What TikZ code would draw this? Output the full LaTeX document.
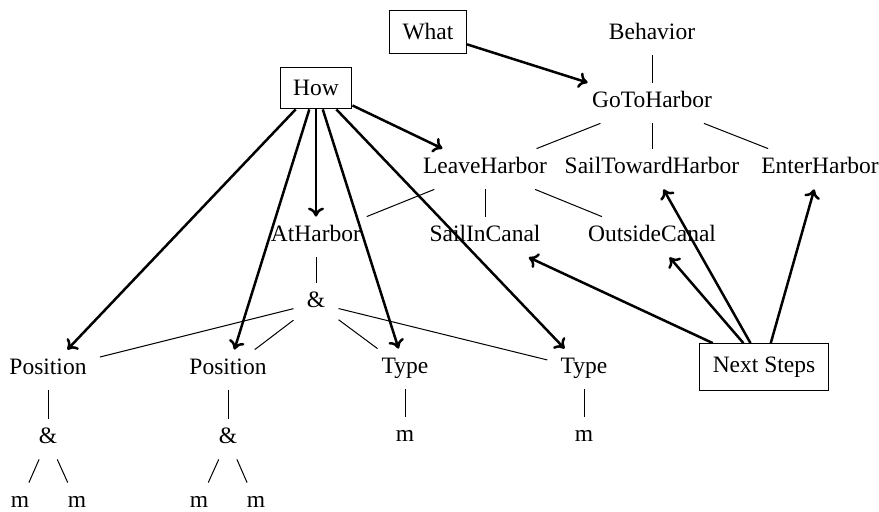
\documentclass[tikz,border=0pt]{standalone}
\usepackage{fontspec}
\setmainfont{Liberation Serif}
\usetikzlibrary{arrows.meta}
\begin{document}
\begin{tikzpicture}[x=0.5pt,y=-0.5pt,
  every node/.style={font=\fontsize{11.75pt}{14pt}\selectfont},
  tn/.style={inner xsep=6.5pt,inner ysep=5.5pt,text height=0.7em,text depth=0.2em},
  bx/.style={draw,line width=0.6pt,inner sep=6.5pt},
  tl/.style={line width=0.5pt},
  ar/.style={->,line width=1.25pt,>={To[length=4.5pt,width=8pt]}}]
\useasboundingbox (0,0) rectangle (879,512);
% boxed nodes
\node[bx] (what) at (428,32) {What};
\node[bx] (how) at (316,88) {How};
\node[bx] (next) at (764,367) {Next Steps};
% tree nodes
\node[tn] (beh) at (652,35) {Behavior};
\node[tn] (goto) at (652,103) {GoToHarbor};
\node[tn] (leave) at (485,169) {LeaveHarbor};
\node[tn] (sailtow) at (652,169) {SailTowardHarbor};
\node[tn] (enter) at (820,169) {EnterHarbor};
\node[tn] (at) at (316,237) {AtHarbor};
\node[tn] (sailin) at (485,237) {SailInCanal};
\node[tn] (outside) at (652,237) {OutsideCanal};
\node[tn] (and) at (316,303) {\&};
\node[tn] (pos1) at (48,370) {Position};
\node[tn] (pos2) at (228,370) {Position};
\node[tn] (type1) at (405,369) {Type};
\node[tn] (type2) at (584,369) {Type};
\node[tn] (and1) at (48,439) {\&};
\node[tn] (and2) at (228,439) {\&};
\node[tn] (m1) at (405,437) {m};
\node[tn] (m2) at (584,437) {m};
\node[tn] (m3) at (20,503) {m};
\node[tn] (m4) at (77,503) {m};
\node[tn] (m5) at (199,503) {m};
\node[tn] (m6) at (256,503) {m};
% tree lines
\draw[tl] (beh) -- (goto);
\draw[tl] (goto) -- (leave);
\draw[tl] (goto) -- (sailtow);
\draw[tl] (goto) -- (enter);
\draw[tl] (leave) -- (at);
\draw[tl] (leave) -- (sailin);
\draw[tl] (leave) -- (outside);
\draw[tl] (at) -- (and);
\draw[tl] (and) -- (pos1);
\draw[tl] (and) -- (pos2);
\draw[tl] (and) -- (type1);
\draw[tl] (and) -- (type2);
\draw[tl] (pos1) -- (and1);
\draw[tl] (pos2) -- (and2);
\draw[tl] (type1) -- (m1);
\draw[tl] (type2) -- (m2);
\draw[tl] (and1) -- (m3);
\draw[tl] (and1) -- (m4);
\draw[tl] (and2) -- (m5);
\draw[tl] (and2) -- (m6);
% arrows
\draw[ar] (what) -- (goto);
\draw[ar] (how) -- (leave);
\draw[ar] (how) -- (at);
\draw[ar] (how) -- (pos1);
\draw[ar] (how) -- (pos2);
\draw[ar] (how) -- (type1);
\draw[ar] (how) -- (type2);
\draw[ar] (next) -- (sailin);
\draw[ar] (next) -- (outside);
\draw[ar] (next) -- (sailtow);
\draw[ar] (next) -- (enter);
\end{tikzpicture}
\end{document}
